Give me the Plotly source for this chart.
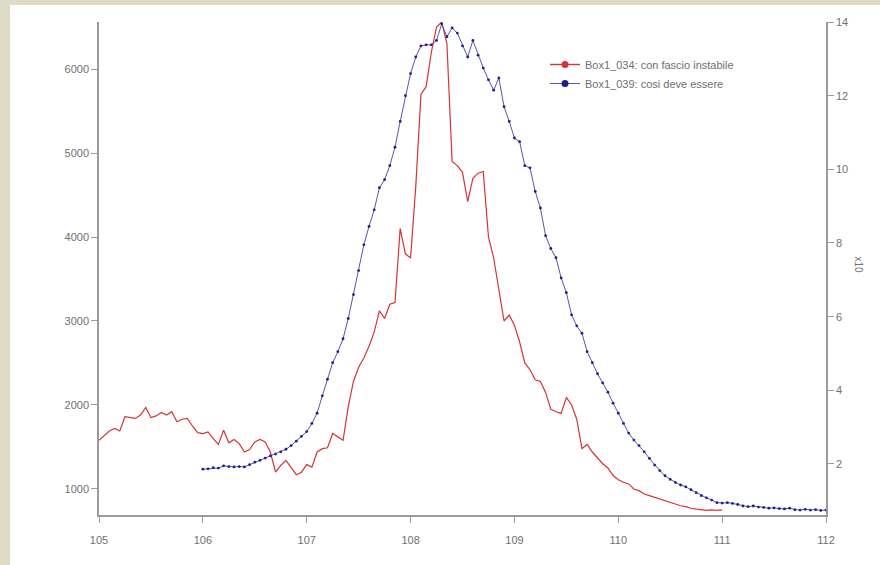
import numpy as np
import plotly.graph_objects as go

# ---- data ----
red_name = "Box1_034: con fascio instabile"
blue_name = "Box1_039: cosi deve essere"

red_x_start, blue_x_start, x_step = 105.0, 106.0, 0.05

red_values = [
    1580, 1640, 1690, 1720, 1690, 1860, 1850, 1840, 1880, 1970,
    1850, 1870, 1910, 1880, 1920, 1800, 1830, 1840, 1750, 1670,
    1660, 1680, 1600, 1530, 1700, 1550, 1590, 1540, 1440, 1470,
    1560, 1590, 1560, 1440, 1200, 1280, 1340, 1250, 1170, 1200,
    1290, 1260, 1440, 1480, 1490, 1660, 1620, 1580, 1980, 2280,
    2450, 2560, 2700, 2870, 3120, 3030, 3200, 3220, 4100, 3800,
    3750, 4600, 5700, 5790, 6200, 6500, 6560, 6300, 4900, 4850,
    4770, 4420, 4700, 4760, 4780, 4000, 3750, 3350, 3000, 3070,
    2950, 2750, 2500, 2420, 2300, 2280, 2150, 1950, 1920, 1900,
    2090, 2000, 1830, 1480, 1530, 1440, 1370, 1300, 1250, 1160,
    1110, 1080, 1060, 1000, 980, 940, 920, 900, 880, 860,
    840, 820, 800, 790, 770, 760, 750, 745, 750, 745,
    750,
]

blue_values = [
    1.86, 1.87, 1.90, 1.89, 1.95, 1.93, 1.92, 1.93, 1.92, 1.98,
    2.05, 2.10, 2.16, 2.22, 2.27, 2.33, 2.40, 2.50, 2.62, 2.75,
    2.88, 3.10, 3.38, 3.85, 4.30, 4.75, 5.05, 5.40, 5.95, 6.60,
    7.25, 7.95, 8.45, 8.90, 9.50, 9.72, 10.10, 10.60, 11.30, 12.00,
    12.60, 13.05, 13.35, 13.38, 13.38, 13.50, 13.95, 13.60, 13.84, 13.70,
    13.35, 13.05, 13.50, 13.10, 12.75, 12.43, 12.15, 12.48, 11.70, 11.30,
    10.85, 10.75, 10.10, 10.04, 9.40, 8.95, 8.20, 7.85, 7.60, 7.05,
    6.65, 6.05, 5.75, 5.55, 5.05, 4.75, 4.45, 4.20, 3.95, 3.65,
    3.38, 3.10, 2.84, 2.65, 2.50, 2.33, 2.15, 1.97, 1.82, 1.68,
    1.58, 1.50, 1.43, 1.38, 1.30, 1.22, 1.14, 1.08, 1.02, 0.95,
    0.94, 0.95, 0.93, 0.90, 0.86, 0.84, 0.86, 0.83, 0.82, 0.80,
    0.81, 0.79, 0.78, 0.80, 0.76, 0.75, 0.77, 0.75, 0.76, 0.74,
    0.75,
]

x_ticks = [105, 106, 107, 108, 109, 110, 111, 112]
left_ticks = [1000, 2000, 3000, 4000, 5000, 6000]
right_ticks = [2, 4, 6, 8, 10, 12, 14]
right_title = "x10"

red_x = np.round(red_x_start + x_step * np.arange(len(red_values)), 2)
blue_x = np.round(blue_x_start + x_step * np.arange(len(blue_values)), 2)

# ---- styles ----
RED = "#d63434"
BLUE = "#1e1e8e"
BLUE_LINE = "#5656b0"
AX = "#9a9a9a"
TXT = "#707070"
FONT = "Liberation Sans, Arial, sans-serif"

fig = go.Figure()
fig.add_trace(go.Scatter(
    x=red_x, y=red_values, mode="lines", yaxis="y",
    line=dict(color=RED, width=1.2), showlegend=False))
fig.add_trace(go.Scatter(
    x=blue_x, y=blue_values, mode="lines+markers", yaxis="y2",
    line=dict(color=BLUE_LINE, width=1),
    marker=dict(color=BLUE, size=2.8), showlegend=False))

# legend-only entries
fig.add_trace(go.Scatter(x=[None], y=[None], mode="lines+markers", name=red_name,
                         line=dict(color=RED, width=1.4), marker=dict(color=RED, size=7)))
fig.add_trace(go.Scatter(x=[None], y=[None], mode="lines+markers", name=blue_name,
                         line=dict(color=BLUE_LINE, width=1), marker=dict(color=BLUE, size=7)))

L, R, T, B = 99, 54, 22, 50
W, H = 880, 565
pw, ph = W - L - R, H - T - B

def px_x(p):
    return (p - L) / pw

def px_y(p):
    return (H - B - p) / ph

fig.add_shape(type="rect", xref="paper", yref="paper",
              x0=px_x(10), x1=px_x(885), y0=px_y(570), y1=px_y(5),
              fillcolor="white", line=dict(width=0), layer="below")

fig.add_annotation(text=right_title, xref="paper", yref="paper",
                   x=px_x(866), y=px_y(265), showarrow=False, textangle=90,
                   font=dict(family=FONT, size=10, color=TXT))

axis_common = dict(showgrid=False, zeroline=False, showline=True, linecolor=AX,
                   linewidth=1.5, ticks="outside", ticklen=6, tickcolor=AX,
                   tickwidth=1.2, tickfont=dict(family=FONT, size=11, color=TXT))

fig.update_layout(
    width=W, height=H,
    margin=dict(l=L, r=R, t=T, b=B),
    paper_bgcolor="#dedcc4",
    plot_bgcolor="white",
    xaxis=dict(range=[105, 112], tickvals=x_ticks, ticktext=[str(v) for v in x_ticks],
               ticklabelstandoff=8, **axis_common),
    yaxis=dict(range=[690, 6560], tickvals=left_ticks, **axis_common),
    yaxis2=dict(range=[0.615, 14], tickvals=right_ticks, overlaying="y", side="right",
                **axis_common),
    legend=dict(x=px_x(545), y=px_y(50), xanchor="left", yanchor="top",
                bgcolor="rgba(0,0,0,0)", font=dict(family=FONT, size=11, color=TXT),
                tracegroupgap=0, itemwidth=30),
    showlegend=True,
)

fig.write_html("out.html")
